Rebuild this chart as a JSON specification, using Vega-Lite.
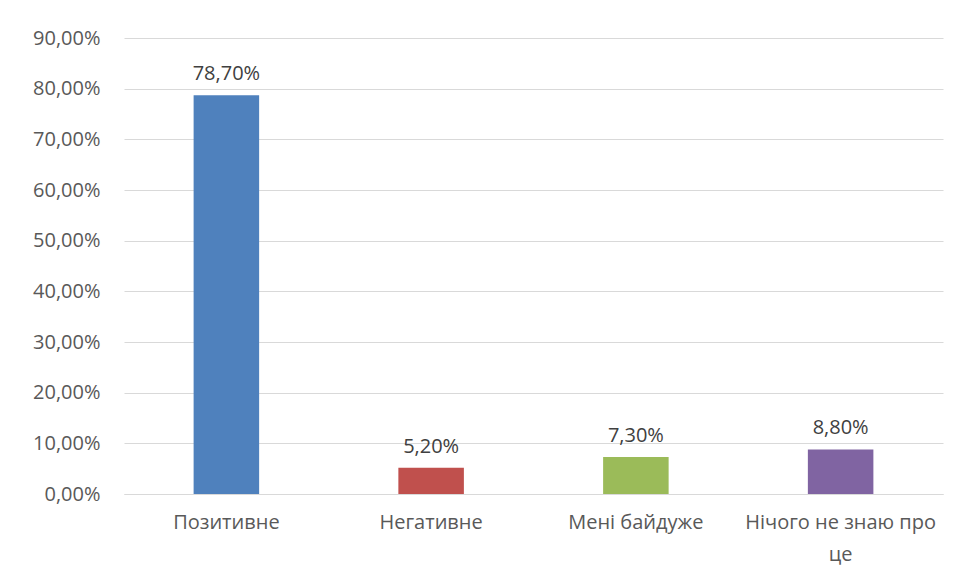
{
  "$schema": "https://vega.github.io/schema/vega-lite/v6.json",
  "width": 819,
  "height": 456,
  "autosize": "none",
  "padding": {"left": 124, "top": 38, "right": 11, "bottom": 87},
  "background": "white",
  "config": {
    "view": {"stroke": null},
    "font": "Open Sans"
  },
  "data": {
    "values": [
      {"category": "Позитивне", "value": 0.787},
      {"category": "Негативне", "value": 0.052},
      {"category": "Мені байдуже", "value": 0.073},
      {"category": "Нічого не знаю про це", "value": 0.088}
    ]
  },
  "transform": [
    {"calculate": "replace(format(datum.value, '.2%'), '.', ',')", "as": "label"}
  ],
  "encoding": {
    "x": {
      "field": "category",
      "type": "nominal",
      "sort": null,
      "scale": {"paddingInner": 0.68, "paddingOuter": 0.34},
      "axis": {
        "title": null,
        "labelAngle": 0,
        "labelFontSize": 20,
        "labelColor": "#595959",
        "labelPadding": 18,
        "labelLineHeight": 32,
        "labelLimit": 0,
        "labelOverlap": false,
        "ticks": false,
        "domain": true,
        "domainColor": "#d9d9d9",
        "labelExpr": "datum.label == 'Нічого не знаю про це' ? ['Нічого не знаю про', 'це'] : datum.label"
      }
    },
    "y": {
      "field": "value",
      "type": "quantitative",
      "scale": {"domain": [0, 0.9], "nice": false},
      "axis": {
        "title": null,
        "values": [0, 0.1, 0.2, 0.3, 0.4, 0.5, 0.6, 0.7, 0.8, 0.9],
        "labelExpr": "replace(format(datum.value, '.2%'), '.', ',')",
        "labelFontSize": 20,
        "labelColor": "#595959",
        "labelPadding": 24,
        "ticks": false,
        "domain": false,
        "grid": true,
        "gridColor": "#d9d9d9",
        "gridWidth": 1
      }
    }
  },
  "layer": [
    {
      "mark": {"type": "bar"},
      "encoding": {
        "color": {
          "field": "category",
          "type": "nominal",
          "sort": null,
          "scale": {
            "domain": ["Позитивне", "Негативне", "Мені байдуже", "Нічого не знаю про це"],
            "range": ["#4f81bd", "#c0504d", "#9bbb59", "#8064a2"]
          },
          "legend": null
        }
      }
    },
    {
      "mark": {"type": "text", "baseline": "bottom", "dy": -11, "fontSize": 20, "color": "#404040"},
      "encoding": {
        "text": {"field": "label", "type": "nominal"}
      }
    }
  ]
}
